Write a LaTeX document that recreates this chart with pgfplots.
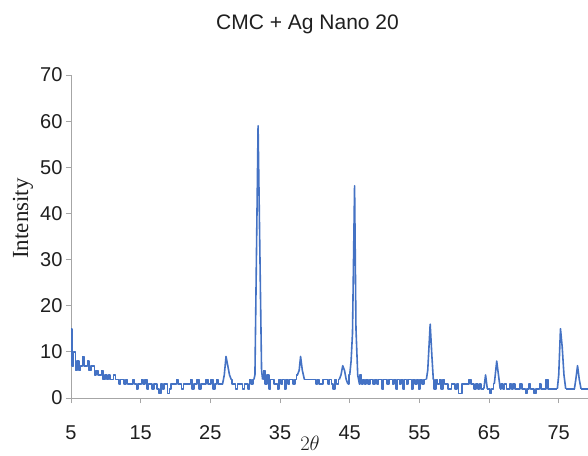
\documentclass[border=0pt]{standalone}
\usepackage{fontspec}
\setmainfont{Liberation Sans}
\newfontfamily\serifont{Liberation Serif}
\usepackage{pgfplots}
\usepackage{pgfplotstable}
\pgfplotsset{compat=1.18}
\definecolor{xrdblue}{HTML}{4472C4}
\definecolor{axgray}{HTML}{A6A6A6}
\pgfplotstableread{
x y
5.00 15
5.25 7
5.50 10
5.75 6
6.00 8
6.25 6
6.50 7
6.75 9
7.00 7
7.25 7
7.50 8
7.75 6
8.00 7
8.25 7
8.50 5
8.75 6
9.00 5
9.25 5
9.50 6
9.75 4
10.00 5
10.25 4
10.50 5
10.75 4
11.00 4
11.25 5
11.50 4
11.75 4
12.00 3
12.25 4
12.50 4
12.75 3
13.00 4
13.25 3
13.50 3
13.75 3
14.00 4
14.25 3
14.50 2
14.75 3
15.00 3
15.25 4
15.50 3
15.75 4
16.00 2
16.25 3
16.50 3
16.75 2
17.00 3
17.25 3
17.50 2
17.75 1
18.00 3
18.25 2
18.50 3
18.75 3
19.00 1
19.25 2
19.50 3
19.75 3
20.00 3
20.25 4
20.50 3
20.75 3
21.00 2
21.25 3
21.50 3
21.75 3
22.00 3
22.25 4
22.50 2
22.75 3
23.00 3
23.25 4
23.50 2
23.75 3
24.00 3
24.25 3
24.50 4
24.75 3
25.00 3
25.25 4
25.50 2
25.75 3
26.00 4
26.25 3
26.50 3
26.75 3
27.00 5
27.25 9
27.50 7
27.75 5
28.00 4
28.25 3
28.50 3
28.75 2
29.00 3
29.25 3
29.50 3
29.75 2
30.00 3
30.25 3
30.50 2
30.75 4
31.00 3
31.25 4
31.40 5
31.85 59
32.00 43
32.35 6
32.50 4
32.75 6
33.00 3
33.25 5
33.50 2
33.75 4
34.00 4
34.25 3
34.50 3
34.75 2
35.00 4
35.25 3
35.50 4
35.75 2
36.00 4
36.25 3
36.50 4
36.75 4
37.00 3
37.25 4
37.50 5
37.75 6
37.95 9
38.20 6
38.50 4
38.75 4
39.00 4
39.25 4
39.50 4
39.75 4
40.00 4
40.25 3
40.50 4
40.75 3
41.00 3
41.25 4
41.50 4
41.75 4
42.00 3
42.25 4
42.50 3
42.75 2
43.00 4
43.25 3
43.50 4
43.75 5
44.00 7
44.25 6
44.50 4
44.75 3
45.00 5
45.20 8
45.40 14
45.70 46
45.90 15
46.15 5
46.40 3
46.60 5
46.80 3
47.00 4
47.25 3
47.50 4
47.75 3
48.00 4
48.25 4
48.50 3
48.75 4
49.00 3
49.25 4
49.50 4
49.75 2
50.00 4
50.25 4
50.50 3
50.75 4
51.00 4
51.25 3
51.50 4
51.75 2
52.00 4
52.25 3
52.50 4
52.75 2
53.00 4
53.25 3
53.50 4
53.75 4
54.00 2
54.25 4
54.50 3
54.75 4
55.00 2
55.25 4
55.50 3
55.75 4
56.00 4
56.20 6
56.55 16
56.80 9
57.00 4
57.25 2
57.50 4
57.75 3
58.00 4
58.25 2
58.50 4
58.75 3
59.00 3
59.25 2
59.50 2
59.75 3
60.00 3
60.25 2
60.50 3
60.75 1
61.00 1
61.25 3
61.50 3
61.75 3
62.00 3
62.25 4
62.50 3
62.75 3
63.00 2
63.25 3
63.50 2
63.75 3
64.00 2
64.25 2
64.50 5
64.75 2
65.00 2
65.25 1
65.50 2
65.75 3
66.10 8
66.35 5
66.60 2
66.85 3
67.10 2
67.35 3
67.60 2
67.85 2
68.10 3
68.35 2
68.60 3
68.85 2
69.10 2
69.35 2
69.60 3
69.85 2
70.10 2
70.35 1
70.60 2
70.85 3
71.10 2
71.35 2
71.60 1
71.85 2
72.10 2
72.35 3
72.60 2
72.85 2
73.10 2
73.30 4
73.55 2
73.80 2
74.05 2
74.30 2
74.55 2
74.80 2
75.00 5
75.25 15
75.50 11
75.75 5
76.00 2
76.25 2
76.50 2
76.75 2
77.00 2
77.25 2
77.45 4
77.70 7
77.95 4
78.20 2
78.50 2
78.75 2
79.00 2
79.25 2
}\xrddata
\pgfplotsset{
  base/.style={xrdblue, line width=1.6bp, mark=none, line join=round, const plot mark mid, forget plot},
  pk/.style={xrdblue, line width=1.6bp, mark=none, line join=round, forget plot},
}
\begin{document}
\begin{tikzpicture}
\path[use as bounding box, fill=white] (0,0) rectangle (588bp,456bp);
\begin{axis}[
  at={(71bp,58bp)}, anchor=south west,
  scale only axis, width=517bp, height=323bp,
  xmin=5, xmax=79.2, ymin=0, ymax=70,
  axis lines*=left,
  axis line style={axgray, line width=1bp},
  tick style={axgray, line width=1bp},
  tick align=outside, major tick length=5bp,
  xtick={5,15,...,75}, ytick={0,10,...,70},
  ticklabel style={font=\fontsize{20bp}{24bp}\selectfont, text=black!88},
  /pgf/number format/assume math mode=true,
  xticklabel style={yshift=-19bp},
  clip=false,
]
% noisy baseline drawn as steps, peaks drawn as straight segments
\addplot[base, restrict x to domain=4.9:6.001] table[x=x, y=y] {\xrddata};
\addplot[base, restrict x to domain=5.999:26.751] table[x=x, y=y] {\xrddata};
\addplot[pk,   restrict x to domain=26.749:28.001] table[x=x, y=y] {\xrddata};
\addplot[base, restrict x to domain=27.999:31.251] table[x=x, y=y] {\xrddata};
\addplot[pk,   restrict x to domain=31.249:32.501] table[x=x, y=y] {\xrddata};
\addplot[base, restrict x to domain=32.499:37.501] table[x=x, y=y] {\xrddata};
\addplot[pk,   restrict x to domain=37.499:38.501] table[x=x, y=y] {\xrddata};
\addplot[base, restrict x to domain=38.499:43.501] table[x=x, y=y] {\xrddata};
\addplot[pk,   restrict x to domain=43.499:44.751] table[x=x, y=y] {\xrddata};
\addplot[base, restrict x to domain=44.749:45.001] table[x=x, y=y] {\xrddata};
\addplot[pk,   restrict x to domain=44.999:46.401] table[x=x, y=y] {\xrddata};
\addplot[base, restrict x to domain=46.399:56.001] table[x=x, y=y] {\xrddata};
\addplot[pk,   restrict x to domain=55.999:57.001] table[x=x, y=y] {\xrddata};
\addplot[base, restrict x to domain=56.999:64.251] table[x=x, y=y] {\xrddata};
\addplot[pk,   restrict x to domain=64.249:64.751] table[x=x, y=y] {\xrddata};
\addplot[base, restrict x to domain=64.749:65.751] table[x=x, y=y] {\xrddata};
\addplot[pk,   restrict x to domain=65.749:66.601] table[x=x, y=y] {\xrddata};
\addplot[base, restrict x to domain=66.599:74.801] table[x=x, y=y] {\xrddata};
\addplot[pk,   restrict x to domain=74.799:76.001] table[x=x, y=y] {\xrddata};
\addplot[base, restrict x to domain=75.999:77.251] table[x=x, y=y] {\xrddata};
\addplot[pk,   restrict x to domain=77.249:78.201] table[x=x, y=y] {\xrddata};
\addplot[base, restrict x to domain=78.199:79.3] table[x=x, y=y] {\xrddata};
\end{axis}
\node[font=\fontsize{21bp}{25bp}\selectfont, anchor=base, text=black!88] at (307.5bp, 426bp) {CMC + Ag Nano 20};
\node[font=\serifont\fontsize{23bp}{27bp}\selectfont, rotate=90, text=black!88] at (23bp, 237.5bp) {Intensity};
\node[font=\fontsize{21bp}{25bp}\selectfont, anchor=north, inner sep=0pt, text=black!88] at (310bp, 20bp) {$2\theta$};
\end{tikzpicture}
\end{document}
